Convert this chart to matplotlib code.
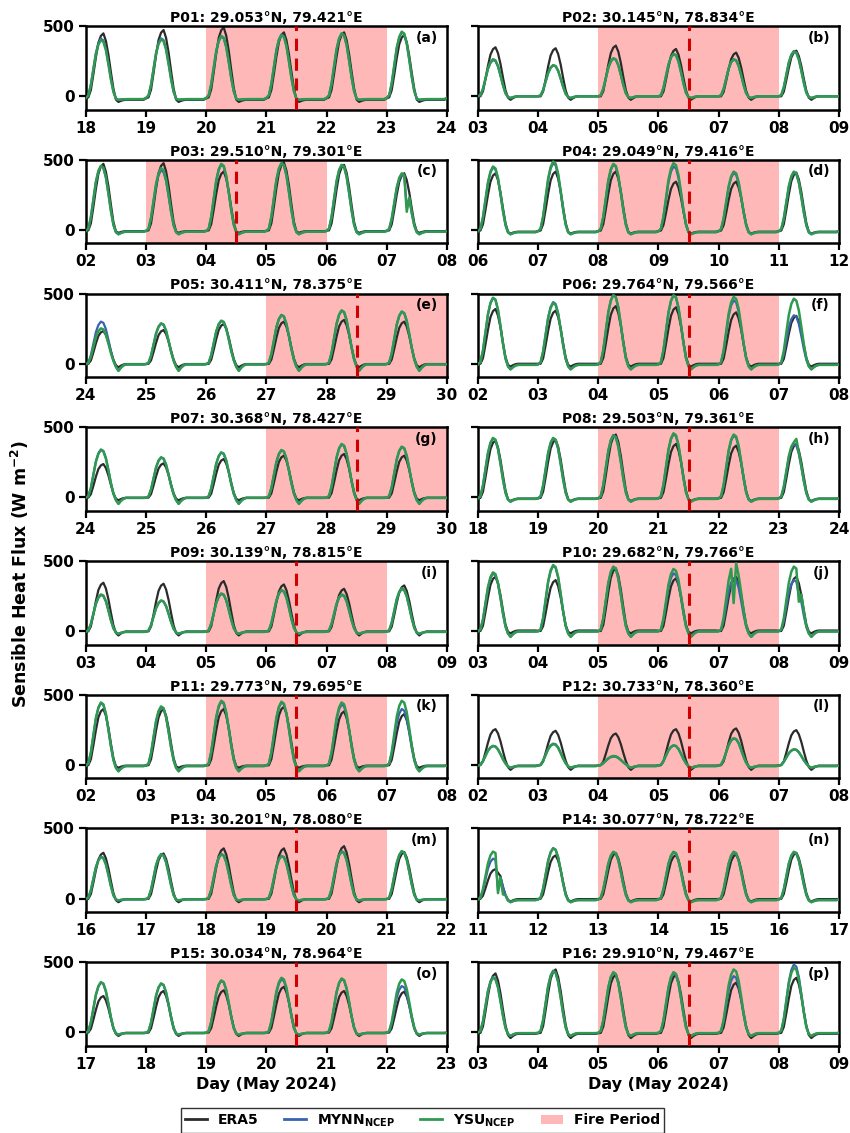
import numpy as np
import matplotlib
matplotlib.use('Agg')
import matplotlib.pyplot as plt
from matplotlib.patches import Patch
from matplotlib.lines import Line2D

plt.rcParams['font.family'] = ['DejaVu Sans']
plt.rcParams['font.weight'] = 'bold'
plt.rcParams['axes.titleweight'] = 'bold'
plt.rcParams['axes.labelweight'] = 'bold'

# ---------------- data ----------------
TITLES = ["P01: 29.053°N, 79.421°E", "P02: 30.145°N, 78.834°E",
          "P03: 29.510°N, 79.301°E", "P04: 29.049°N, 79.416°E",
          "P05: 30.411°N, 78.375°E", "P06: 29.764°N, 79.566°E",
          "P07: 30.368°N, 78.427°E", "P08: 29.503°N, 79.361°E",
          "P09: 30.139°N, 78.815°E", "P10: 29.682°N, 79.766°E",
          "P11: 29.773°N, 79.695°E", "P12: 30.733°N, 78.360°E",
          "P13: 30.201°N, 78.080°E", "P14: 30.077°N, 78.722°E",
          "P15: 30.034°N, 78.964°E", "P16: 29.910°N, 79.467°E"]
PANEL_LABELS = ["(a)", "(b)", "(c)", "(d)", "(e)", "(f)", "(g)", "(h)",
                "(i)", "(j)", "(k)", "(l)", "(m)", "(n)", "(o)", "(p)"]
START_DAY = [18, 3, 2, 6, 24, 2, 24, 18, 3, 3, 2, 2, 16, 11, 17, 3]
FIRE_START = [20, 5, 3, 8, 27, 4, 27, 20, 5, 5, 4, 4, 18, 13, 19, 5]
FIRE_END = [23, 8, 6, 11, 30, 7, 30, 23, 8, 8, 7, 7, 21, 16, 22, 8]
EVENT_DAY = [21.5, 6.5, 4.5, 9.5, 28.5, 5.5, 28.5, 21.5, 6.5, 6.5, 5.5, 5.5,
             19.5, 14.5, 20.5, 6.5]

# daily peak sensible heat flux (W m-2), six days per point
ERA5_PEAKS = [[448, 472, 490, 455, 455, 436], [349, 342, 361, 337, 311, 325],
              [471, 476, 416, 481, 464, 404], [404, 416, 416, 344, 344, 409],
              [233, 240, 283, 300, 312, 300], [390, 378, 410, 402, 366, 341],
              [238, 243, 274, 298, 310, 298], [405, 410, 448, 381, 369, 381],
              [345, 338, 357, 333, 302, 326], [388, 364, 448, 376, 388, 388],
              [398, 398, 398, 414, 381, 362], [255, 243, 224, 255, 260, 248],
              [327, 322, 358, 358, 374, 332], [210, 308, 325, 310, 315, 327],
              [259, 295, 300, 325, 295, 290], [420, 448, 410, 410, 354, 389]]
MYNN_PEAKS = [[410, 413, 425, 440, 445, 455], [258, 220, 268, 300, 262, 322],
              [455, 425, 465, 474, 462, 395], [445, 475, 465, 452, 405, 410],
              [300, 285, 305, 345, 378, 370], [468, 439, 490, 485, 451, 345],
              [342, 284, 320, 336, 378, 360], [420, 420, 445, 450, 440, 380],
              [258, 217, 266, 290, 258, 300], [410, 465, 455, 412, 376, 364],
              [440, 412, 450, 445, 430, 398], [134, 152, 60, 138, 188, 110],
              [300, 318, 318, 305, 338, 336], [285, 360, 330, 330, 330, 330],
              [355, 347, 368, 377, 380, 330], [395, 440, 425, 420, 401, 483]]
YSU_PEAKS = [[400, 405, 430, 436, 448, 460], [264, 222, 271, 302, 264, 318],
             [457, 440, 471, 476, 464, 404], [452, 488, 471, 476, 416, 416],
             [252, 288, 307, 348, 380, 372], [470, 432, 488, 488, 476, 463],
             [338, 286, 321, 338, 381, 362], [424, 424, 440, 457, 448, 393],
             [262, 219, 269, 293, 262, 305], [419, 471, 460, 443, 483, 460],
             [445, 417, 457, 450, 445, 457], [136, 148, 64, 140, 190, 112],
             [296, 315, 315, 303, 334, 339], [335, 358, 334, 334, 334, 334],
             [358, 349, 370, 389, 384, 377], [389, 436, 429, 429, 448, 460]]

# night-time level and post-sunset minimum (W m-2)
ERA5_NIGHT = [-25, 0, -8, -12, -2, 0, -2, -8, -2, 5, -5, -5, -3, -3, -3, -10]
ERA5_DIP = [-40, -25, -20, -25, -25, -20, -20, -25, -30, -15, -20, -35, -25, -20, -25, -40]
WRF_NIGHT = [-20, 0, -12, -15, -5, -8, -3, -10, -5, -2, -8, -8, -5, -10, -5, -5]
WRF_DIP = [-25, -12, -30, -30, -50, -40, -45, -30, -18, -40, -45, -20, -12, -25, -15, -25]

# hourly diurnal shapes (fraction of daily peak, 00-23 UTC)
ERA5_SHAPE = [0.0, 0.0, 0.1, 0.35, 0.62, 0.85, 0.96, 1.0, 0.88, 0.66, 0.38, 0.12,
              0.0, 0, 0, 0, 0, 0, 0, 0, 0, 0, 0, 0]
WRF_SHAPE = [0.0, 0.03, 0.2, 0.48, 0.75, 0.92, 1.0, 0.97, 0.82, 0.57, 0.3, 0.08,
             0.0, 0, 0, 0, 0, 0, 0, 0, 0, 0, 0, 0]
DIP_WEIGHT = [0, 0, 0, 0, 0, 0, 0, 0, 0, 0, 0, 0, 0.4, 1.0, 0.5, 0.15,
              0, 0, 0, 0, 0, 0, 0, 0]
NIGHT_WEIGHT = [0.6, 0.3, 0, 0, 0, 0, 0, 0, 0, 0, 0, 0, 0.3, 0.0, 0.5, 0.85,
                1, 1, 1, 1, 1, 1, 1, 1]

SPIKES = [(2, 'YSU', 128, 130), (2, 'MYNN', 128, 160),
          (9, 'YSU', 102, 200), (9, 'YSU', 103, 483), (9, 'YSU', 128, 210),
          (9, 'MYNN', 128, 260),
          (13, 'YSU', 8, 40), (13, 'YSU', 9, 150), (13, 'YSU', 10, 30),
          (13, 'MYNN', 8, 60), (13, 'MYNN', 9, 150), (13, 'ERA5', 9, 160),
          (7, 'YSU', 127, 417)]

COLORS = {'ERA5': '#2b2b2b', 'MYNN': '#3a62b0', 'YSU': '#2f9a4f'}


def build(peaks, shape, night, dip):
    vals = []
    for d in range(6):
        for h in range(24):
            vals.append(peaks[d] * shape[h] + DIP_WEIGHT[h] * dip + NIGHT_WEIGHT[h] * night)
    vals.append(NIGHT_WEIGHT[0] * night)
    return np.array(vals, dtype=float)


fig, axes = plt.subplots(8, 2, figsize=(8.5, 11.33), dpi=100)
fig.subplots_adjust(left=0.101, right=0.987, top=0.977, bottom=0.077,
                    hspace=0.6, wspace=0.086)

for i, ax in enumerate(axes.flat):
    s = START_DAY[i]
    x = s + np.arange(145) / 24.0
    series = {
        'ERA5': build(ERA5_PEAKS[i], ERA5_SHAPE, ERA5_NIGHT[i], ERA5_DIP[i]),
        'MYNN': build(MYNN_PEAKS[i], WRF_SHAPE, WRF_NIGHT[i], WRF_DIP[i]),
        'YSU': build(YSU_PEAKS[i], WRF_SHAPE, WRF_NIGHT[i], WRF_DIP[i]),
    }
    for (p, name, hr, v) in SPIKES:
        if p == i:
            series[name][hr] = v

    ax.axvspan(FIRE_START[i], FIRE_END[i], color='#ff0000', alpha=0.28, lw=0, zorder=0)
    ax.plot(x, series['ERA5'], color=COLORS['ERA5'], lw=1.6, zorder=2)
    ax.plot(x, series['MYNN'], color=COLORS['MYNN'], lw=1.6, zorder=3)
    ax.plot(x, series['YSU'], color=COLORS['YSU'], lw=1.8, zorder=4)
    ax.axvline(EVENT_DAY[i], color='#d00000', ls=(0, (4, 2.5)), lw=2.2, zorder=5)

    ax.set_xlim(s, s + 6)
    ax.set_ylim(-95, 500)
    days = list(range(s, s + 7))
    ax.set_xticks(days)
    ax.set_xticklabels([f'{d:02d}' for d in days])
    ax.set_yticks([0, 500])
    if i % 2 == 1:
        ax.set_yticklabels([])
    ax.tick_params(width=1.6, length=5, labelsize=11, pad=3)
    for sp in ax.spines.values():
        sp.set_linewidth(1.8)
    ax.set_title(TITLES[i], fontsize=10, fontweight='bold', pad=3)
    ax.text(0.975, 0.86, PANEL_LABELS[i], transform=ax.transAxes, ha='right',
            va='center', fontsize=10, fontweight='bold')
    if i >= 14:
        ax.set_xlabel('Day (May 2024)', fontsize=11.5, fontweight='bold', labelpad=4)

fig.text(0.024, 0.493, 'Sensible Heat Flux (W m$^{-2}$)', rotation=90,
         ha='center', va='center', fontsize=12.5, fontweight='bold')

handles = [Line2D([], [], color=COLORS['ERA5'], lw=2),
           Line2D([], [], color=COLORS['MYNN'], lw=2),
           Line2D([], [], color=COLORS['YSU'], lw=2),
           Patch(facecolor='#ff0000', alpha=0.28, edgecolor='none')]
labels = ['ERA5', r'MYNN$_{\rm NCEP}$', r'YSU$_{\rm NCEP}$', 'Fire Period']
leg = fig.legend(handles, labels, loc='lower center', bbox_to_anchor=(0.497, -0.006),
                 ncol=4, fontsize=10, frameon=True, fancybox=False,
                 edgecolor='black', handlelength=1.6, columnspacing=1.8,
                 borderpad=0.3)
leg.get_frame().set_linewidth(1.0)

fig.savefig('out.png', dpi=100)
